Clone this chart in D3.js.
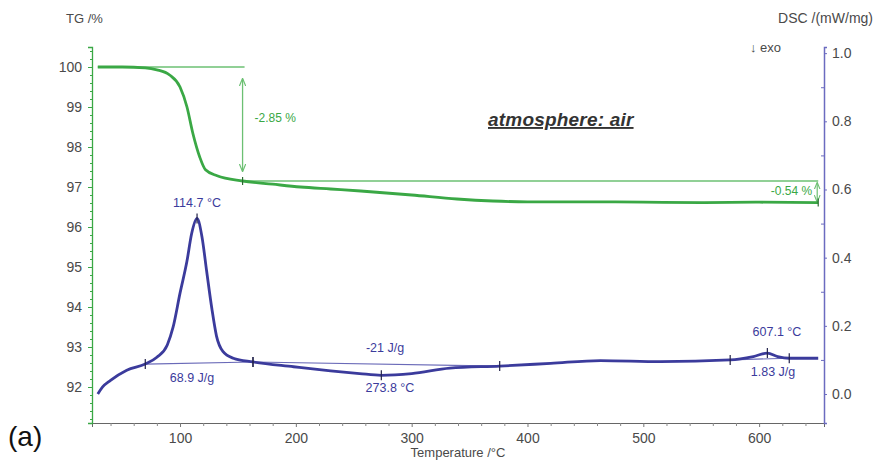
<!DOCTYPE html>
<html>
<head>
<meta charset="utf-8">
<script src="https://cdn.jsdelivr.net/npm/d3@7"></script>
<style>
  body { margin: 0; background: #fff; }
  text { font-family: "Liberation Sans", Arial, sans-serif; }
</style>
</head>
<body>
<div id="chart"></div>
<script>
// TG curve (mass %)
var tgTemp = [29, 50, 70, 80, 91, 100, 106, 111, 117, 122, 132, 154, 180, 204, 230, 256, 300, 339, 370, 400, 450, 500, 550, 600, 651];
var tgMass = [100.0, 100.0, 99.98, 99.93, 99.8, 99.5, 99.0, 98.35, 97.75, 97.43, 97.28, 97.15, 97.07, 97.0, 96.95, 96.9, 96.8, 96.7, 96.65, 96.63, 96.63, 96.62, 96.61, 96.62, 96.61];

// DSC curve (mW/mg)
var dscTemp = [29, 33, 40, 54, 70, 80, 89, 94, 100, 106, 110, 114.7, 119, 123, 127.5, 131.5, 137, 146, 163, 198, 230, 255, 273.8, 300, 333, 376, 420, 463, 515, 575, 595, 607.1, 616, 626, 651];
var dscVal = [0.0, 0.02, 0.04, 0.07, 0.088, 0.108, 0.144, 0.196, 0.296, 0.39, 0.47, 0.515, 0.46, 0.36, 0.25, 0.17, 0.125, 0.105, 0.094, 0.08, 0.068, 0.06, 0.055, 0.06, 0.076, 0.082, 0.09, 0.098, 0.095, 0.10, 0.11, 0.12, 0.11, 0.105, 0.105];

// axis ticks
var xTicks = [100, 200, 300, 400, 500, 600];
var tgTicks = [92, 93, 94, 95, 96, 97, 98, 99, 100];
var dscTicks = [0.0, 0.2, 0.4, 0.6, 0.8, 1.0];

// integration baselines and markers on the DSC curve
var dscBaseStart = [70, 163, 575];
var dscBaseEnd = [163, 376, 626];
var dscPeaks = [114.7, 273.8, 607.1];
var dscPeakLabels = ["114.7 °C", "273.8 °C", "607.1 °C"];
var dscAreaLabels = ["68.9 J/g", "-21 J/g", "1.83 J/g"];

// TG steps
var tgStepTemp = [154, 651];
var tgStepLabels = ["-2.85 %", "-0.54 %"];

var width = 880, height = 464;
var plotL = 92, plotR = 824, plotT = 47, plotB = 423;

var green = "#3aa845", greenLight = "#6cc073", blue = "#3b3b9c", gray = "#4a4a4a";

var svg = d3.select("#chart").append("svg")
  .attr("width", width).attr("height", height);

var x = d3.scaleLinear().domain([24, 656]).range([plotL, plotR]);
var yTG = d3.scaleLinear().domain([91.1, 100.5]).range([plotB, plotT]);
var yDSC = d3.scaleLinear().domain([-0.085, 1.018]).range([plotB, plotT]);

function interp(xs, ys, t) {
  var i = d3.bisectLeft(xs, t);
  if (xs[i] === t) return ys[i];
  var t0 = xs[i - 1], t1 = xs[i];
  return ys[i - 1] + (ys[i] - ys[i - 1]) * (t - t0) / (t1 - t0);
}
function dscAt(t) { return interp(dscTemp, dscVal, t); }
function tgAt(t) { return interp(tgTemp, tgMass, t); }

// Bottom axis
var xAxis = svg.append("g")
  .attr("transform", "translate(0," + plotB + ")")
  .call(d3.axisBottom(x).tickValues(xTicks).tickSize(4).tickPadding(6).tickFormat(d3.format("d")));
svg.append("g")
  .attr("transform", "translate(0," + plotB + ")")
  .call(d3.axisBottom(x).tickValues(d3.range(40, 656, 20).filter(function(d) { return d % 100; }))
    .tickSize(3).tickFormat(""))
  .call(function(g) { g.select(".domain").remove(); g.selectAll("line").attr("stroke", "#888"); });

// Left TG axis
var tgAxis = svg.append("g")
  .attr("transform", "translate(" + plotL + ",0)")
  .call(d3.axisLeft(yTG).tickValues(tgTicks).tickSize(4).tickPadding(6).tickFormat(d3.format("d")));
svg.append("g")
  .attr("transform", "translate(" + plotL + ",0)")
  .call(d3.axisLeft(yTG).tickValues(d3.range(91.2, 100.5, 0.2)).tickSize(2).tickFormat(""))
  .call(function(g) { g.select(".domain").remove(); g.selectAll("line").attr("stroke", green); });

// Right DSC axis
var dscAxis = svg.append("g")
  .attr("transform", "translate(" + plotR + ",0)")
  .call(d3.axisRight(yDSC).tickValues(dscTicks).tickSize(3).tickPadding(5).tickFormat(d3.format(".1f")));
svg.append("g")
  .attr("transform", "translate(" + plotR + ",0)")
  .call(d3.axisLeft(yDSC).tickValues([0.1, 0.3, 0.5, 0.7, 0.9]).tickSize(3).tickFormat(""))
  .call(function(g) { g.select(".domain").remove(); g.selectAll("line").attr("stroke", "#6b6bc0"); });

[xAxis, tgAxis, dscAxis].forEach(function(g) {
  g.selectAll("text").attr("font-size", 14).attr("fill", gray);
});
xAxis.select(".domain").attr("stroke", "#666");
xAxis.selectAll(".tick line").attr("stroke", "#777");
tgAxis.select(".domain").attr("stroke", green).attr("stroke-width", 1.3);
tgAxis.selectAll(".tick line").attr("stroke", green);
dscAxis.select(".domain").attr("stroke", "#6b6bc0").attr("stroke-width", 1.5);
dscAxis.selectAll(".tick line").attr("stroke", "#6b6bc0");

// Axis titles
svg.append("text").attr("x", 66).attr("y", 23).attr("font-size", 13).attr("fill", gray).text("TG /%");
svg.append("text").attr("x", 873).attr("y", 23).attr("text-anchor", "end").attr("font-size", 14).attr("fill", gray).text("DSC /(mW/mg)");
svg.append("text").attr("x", 750).attr("y", 52).attr("font-size", 13).attr("fill", gray).text("↓ exo");
svg.append("text").attr("x", (plotL + plotR) / 2).attr("y", 457).attr("text-anchor", "middle")
  .attr("font-size", 13).attr("fill", gray).text("Temperature /°C");
svg.append("text").attr("x", 8).attr("y", 446).attr("font-family", "Lato, 'Open Sans', sans-serif")
  .attr("font-size", 28).attr("fill", "#111").text("(a)");

// atmosphere note
svg.append("text").attr("x", 488).attr("y", 126)
  .attr("font-size", 19).attr("font-weight", "bold").attr("font-style", "italic")
  .attr("letter-spacing", 0.2)
  .attr("text-decoration", "underline").attr("fill", "#333").text("atmosphere: air");

// TG step annotations
var tgStart = tgMass[0];
svg.append("line")
  .attr("x1", x(tgTemp[0])).attr("x2", x(tgStepTemp[0]) + 2)
  .attr("y1", yTG(tgStart)).attr("y2", yTG(tgStart))
  .attr("stroke", greenLight).attr("stroke-width", 1.3);
svg.append("line")
  .attr("x1", x(tgStepTemp[0])).attr("x2", x(tgStepTemp[1]))
  .attr("y1", yTG(tgAt(tgStepTemp[0]))).attr("y2", yTG(tgAt(tgStepTemp[0])))
  .attr("stroke", greenLight).attr("stroke-width", 1.3);

var defs = svg.append("defs");
defs.append("marker").attr("id", "arr").attr("viewBox", "0 0 10 10").attr("refX", 9).attr("refY", 5)
  .attr("markerWidth", 6).attr("markerHeight", 6).attr("orient", "auto-start-reverse")
  .append("path").attr("d", "M0,1 L10,5 L0,9").attr("fill", "none").attr("stroke", greenLight).attr("stroke-width", 1.5);

// first step arrow
svg.append("line")
  .attr("x1", x(tgStepTemp[0])).attr("x2", x(tgStepTemp[0]))
  .attr("y1", yTG(tgStart) + 12).attr("y2", yTG(tgAt(tgStepTemp[0])) - 10)
  .attr("stroke", greenLight).attr("stroke-width", 1.3)
  .attr("marker-start", "url(#arr)").attr("marker-end", "url(#arr)");
svg.append("text").attr("x", x(tgStepTemp[0]) + 12).attr("y", 122)
  .attr("font-size", 12).attr("fill", green).text(tgStepLabels[0]);

// second step arrow (small)
svg.append("line")
  .attr("x1", x(tgStepTemp[1]) - 1).attr("x2", x(tgStepTemp[1]) - 1)
  .attr("y1", yTG(tgAt(tgStepTemp[0])) + 2).attr("y2", yTG(tgAt(tgStepTemp[1])) - 1)
  .attr("stroke", greenLight).attr("stroke-width", 1.2)
  .attr("marker-start", "url(#arr)").attr("marker-end", "url(#arr)");
svg.append("text").attr("x", x(tgStepTemp[1]) - 6).attr("y", 195).attr("text-anchor", "end")
  .attr("font-size", 12).attr("fill", green).text(tgStepLabels[1]);

// TG curve
var tgData = tgTemp.map(function(t, i) { return [t, tgMass[i]]; });
svg.append("path").datum(tgData)
  .attr("fill", "none").attr("stroke", green).attr("stroke-width", 2.8)
  .attr("d", d3.line().x(function(d) { return x(d[0]); }).y(function(d) { return yTG(d[1]); }).curve(d3.curveMonotoneX));

// TG step markers
svg.selectAll(".tgMark").data(tgStepTemp).enter().append("line")
  .attr("x1", function(d) { return x(d); }).attr("x2", function(d) { return x(d); })
  .attr("y1", function(d) { return yTG(tgAt(d)) - 4; }).attr("y2", function(d) { return yTG(tgAt(d)) + 4; })
  .attr("stroke", "#2a6a2f").attr("stroke-width", 1.2);

// DSC integration baselines
svg.selectAll(".base").data(dscBaseStart).enter().append("line")
  .attr("x1", function(d) { return x(d); })
  .attr("x2", function(d, i) { return x(dscBaseEnd[i]); })
  .attr("y1", function(d) { return yDSC(dscAt(d)); })
  .attr("y2", function(d, i) { return yDSC(dscAt(dscBaseEnd[i])); })
  .attr("stroke", "#6a6ab8").attr("stroke-width", 1.2);

// DSC curve
var dscData = dscTemp.map(function(t, i) { return [t, dscVal[i]]; });
svg.append("path").datum(dscData)
  .attr("fill", "none").attr("stroke", blue).attr("stroke-width", 2.8)
  .attr("d", d3.line().x(function(d) { return x(d[0]); }).y(function(d) { return yDSC(d[1]); }).curve(d3.curveMonotoneX));

// DSC markers
var markT = dscBaseStart.concat(dscBaseEnd).concat(dscPeaks);
svg.selectAll(".dscMark").data(markT).enter().append("line")
  .attr("x1", function(d) { return x(d); }).attr("x2", function(d) { return x(d); })
  .attr("y1", function(d) { return yDSC(dscAt(d)) - 5; }).attr("y2", function(d) { return yDSC(dscAt(d)) + 5; })
  .attr("stroke", "#22224a").attr("stroke-width", 1.2);

// DSC labels
var peakLabelPos = [[197, 207], [390, 392], [777, 336]];
var areaLabelPos = [[192, 382], [385, 352], [773, 376]];
svg.selectAll(".peakLbl").data(dscPeakLabels).enter().append("text")
  .attr("x", function(d, i) { return peakLabelPos[i][0]; })
  .attr("y", function(d, i) { return peakLabelPos[i][1]; })
  .attr("text-anchor", "middle").attr("font-size", 12.5).attr("fill", blue)
  .text(function(d) { return d; });
svg.selectAll(".areaLbl").data(dscAreaLabels).enter().append("text")
  .attr("x", function(d, i) { return areaLabelPos[i][0]; })
  .attr("y", function(d, i) { return areaLabelPos[i][1]; })
  .attr("text-anchor", "middle").attr("font-size", 12.5).attr("fill", blue)
  .text(function(d) { return d; });
</script>
</body>
</html>
